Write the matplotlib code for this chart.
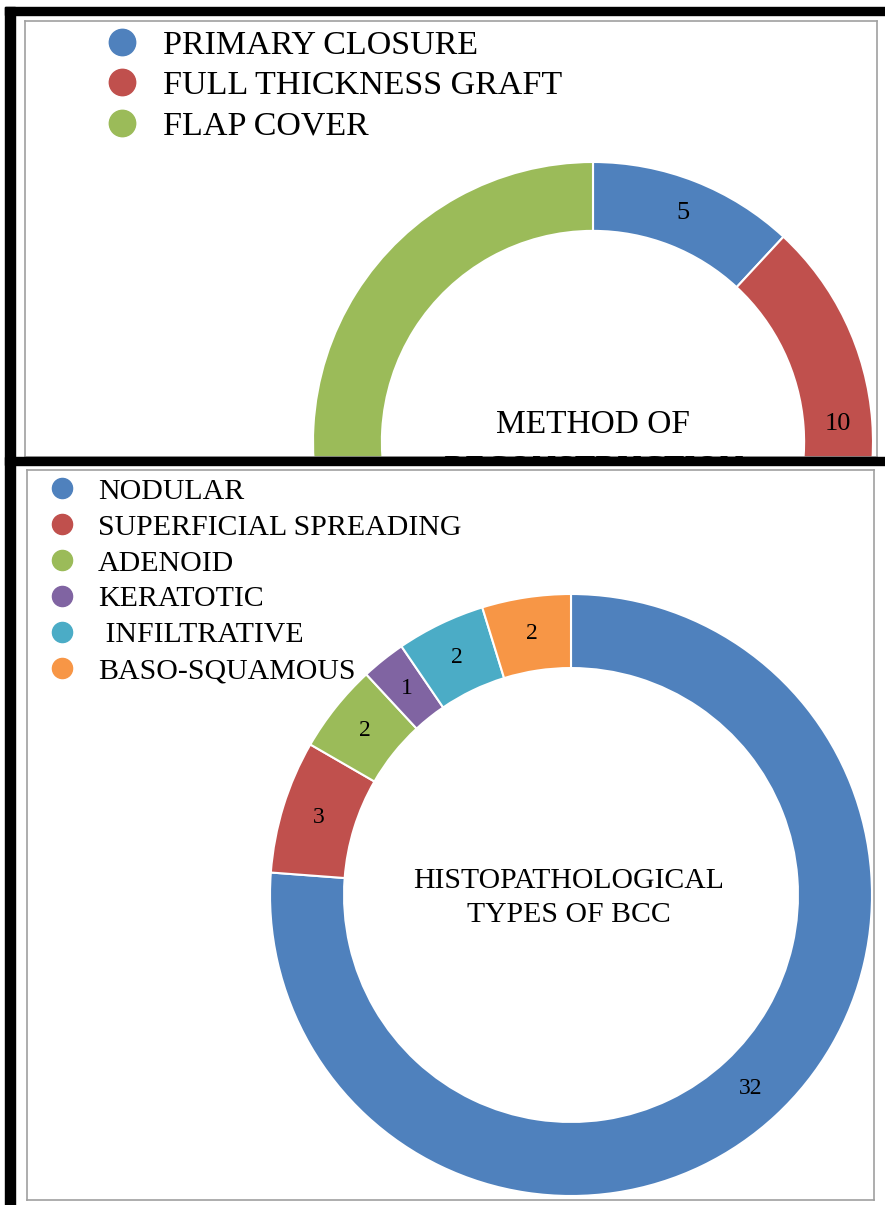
import matplotlib
matplotlib.use('Agg')
import matplotlib.pyplot as plt
from matplotlib.lines import Line2D
from matplotlib.patches import Rectangle

plt.rcParams['font.family'] = ['Liberation Serif', 'DejaVu Serif']

# method of reconstruction
recon_labels = ['PRIMARY CLOSURE', 'FULL THICKNESS GRAFT', 'FLAP COVER']
recon_values = [5, 10, 27]
recon_colors = ['#4F81BD', '#C0504D', '#9BBB59']

# histopathological types
bcc_labels = ['NODULAR', 'SUPERFICIAL SPREADING', 'ADENOID', 'KERATOTIC',
              ' INFILTRATIVE', 'BASO-SQUAMOUS']
bcc_values = [32, 3, 2, 1, 2, 2]
bcc_colors = ['#4F81BD', '#C0504D', '#9BBB59', '#8064A2', '#4BACC6', '#F79646']

W, H = 885, 1205


def box(x0, y0, x1, y1):
    return [x0 / W, 1 - y1 / H, (x1 - x0) / W, (y1 - y0) / H]


def donut(ax, values, colors, center, radius, fs):
    total = sum(values)
    wedges, texts, autotexts = ax.pie(
        values, colors=colors, startangle=90, counterclock=False,
        center=center, radius=radius,
        wedgeprops=dict(width=radius * 0.246, edgecolor='white', linewidth=1.5),
        autopct=lambda p: '%d' % round(p * total / 100), pctdistance=0.877,
        textprops=dict(fontsize=fs, color='black'))
    for w in wedges:
        w.set_clip_on(True)
        w.set_clip_path(ax.patch)
    for t in autotexts:
        t.set_clip_on(True)


fig = plt.figure(figsize=(W / 100, H / 100), dpi=100)

# top panel (cropped)
ax1 = fig.add_axes(box(25, 21, 877, 457))
donut(ax1, recon_values, recon_colors, (593, H - 442), 280, 19)
ax1.text(593, H - 447, 'METHOD OF\nRECONSTRUCTION', ha='center', va='center',
         fontsize=24, linespacing=1.6, clip_on=True)
ax1.set_aspect('auto')
ax1.set_xlim(25, 877)
ax1.set_ylim(H - 457, H - 21)
ax1.set_frame_on(True)
for s in ax1.spines.values():
    s.set_color('#a0a0a0')
    s.set_linewidth(1.2)
h1 = [Line2D([], [], marker='o', ls='none', color=c, markersize=19) for c in recon_colors]
ax1.legend(h1, recon_labels, loc='upper left', bbox_to_anchor=(105 / W, 1 - 30 / H),
           bbox_transform=fig.transFigure, frameon=False, fontsize=24.5,
           handlelength=1.0, handletextpad=0.71, labelspacing=0.28, borderpad=0,
           borderaxespad=0)

# bottom panel
ax2 = fig.add_axes(box(27, 470, 874, 1200))
donut(ax2, bcc_values, bcc_colors, (571, H - 895), 301, 17)
ax2.text(569, H - 898, 'HISTOPATHOLOGICAL\nTYPES OF BCC', ha='center', va='center',
         fontsize=21.4, linespacing=1.4)
ax2.set_aspect('auto')
ax2.set_xlim(27, 874)
ax2.set_ylim(H - 1200, H - 470)
ax2.set_frame_on(True)
for s in ax2.spines.values():
    s.set_color('#a0a0a0')
    s.set_linewidth(1.2)
h2 = [Line2D([], [], marker='o', ls='none', color=c, markersize=14.5) for c in bcc_colors]
ax2.legend(h2, bcc_labels, loc='upper left', bbox_to_anchor=(51.5 / W, 1 - 478 / H),
           bbox_transform=fig.transFigure, frameon=False, fontsize=21.5,
           handlelength=0.7, handletextpad=0.86, labelspacing=0.3, borderpad=0,
           borderaxespad=0)

# black frame bars
for x0, y0, x1, y1 in [(5, 7, 885, 15), (5, 7, 15, 1205), (5, 457, 885, 465)]:
    fig.add_artist(Rectangle((x0 / W, 1 - y1 / H), (x1 - x0) / W, (y1 - y0) / H,
                             transform=fig.transFigure, color='black', zorder=10))

fig.savefig('out.png', dpi=100)
